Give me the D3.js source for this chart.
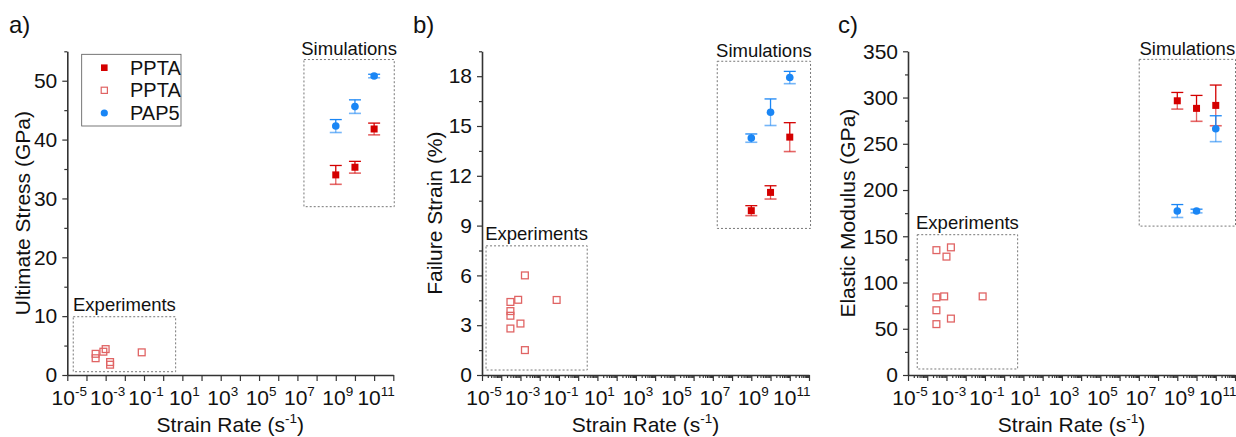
<!DOCTYPE html>
<html>
<head>
<meta charset="utf-8">
<script src="https://cdn.jsdelivr.net/npm/d3@7"></script>
<style>
  body { margin: 0; background: #fff; }
  svg { font-family: "Liberation Sans", Arial, sans-serif; display: block; }
</style>
</head>
<body>
<div id="chart"></div>
<script>
// simulation strain rates (s^-1)
const simRates = [1e9, 1e10, 1e11];

// a) ultimate stress (GPa)
const stressPPTA = [34.0, 35.3, 41.8];
const stressPPTAErr = [1.6, 1.0, 1.0];
const stressPAP5 = [42.3, 45.6, 50.8];
const stressPAP5Err = [1.1, 1.15, 0.3];
const expStressRate = [3.0e-4, 3.0e-4, 7.6e-4, 1.0e-3, 1.7e-3, 1.7e-3, 0.076];
const expStress = [3.6, 2.85, 3.96, 4.4, 2.2, 1.75, 3.85];

// b) failure strain (%)
const strainPPTA = [9.9, 11.0, 14.33];
const strainPPTAErr = [0.3, 0.4, 0.87];
const strainPAP5 = [14.27, 15.83, 17.92];
const strainPAP5Err = [0.25, 0.8, 0.37];
const expStrainRate = [3.0e-4, 3.0e-4, 3.0e-4, 3.0e-4, 7.6e-4, 1.0e-3, 1.7e-3, 1.7e-3, 0.076];
const expStrain = [4.4, 3.85, 3.57, 2.8, 4.53, 3.1, 6.0, 1.5, 4.52];

// c) elastic modulus (GPa)
const modulusPPTA = [296.5, 288.3, 291.5];
const modulusPPTAErr = [9, 14, 22];
const modulusPAP5 = [177.3, 177.3, 266.3];
const modulusPAP5Err = [7, 2, 14];
const expModulusRate = [3.0e-4, 3.0e-4, 3.0e-4, 3.0e-4, 7.6e-4, 1.0e-3, 1.7e-3, 1.7e-3, 0.076];
const expModulus = [135, 84, 70, 55, 85, 128, 138, 61, 85];

// tick labels
const xLabelExps = [-5, -3, -1, 1, 3, 5, 7, 9, 11];
const legendLabels = ["PPTA", "PPTA", "PAP5"];

const RED = "#d40000", BLUE = "#1a86f5", EXP = "#e06464";
const FS = 21;

const svg = d3.select("#chart").append("svg")
    .attr("width", 1236)
    .attr("height", 437);
svg.append("rect").attr("width", 1236).attr("height", 437).attr("fill", "#fff");

const plotTop = 51.3, plotBottom = 375;

const panels = [
    {label: "a)", labelX: 9, left: 67.3, right: 393.3, yMax: 55, yStep: 10, title: "Ultimate Stress (GPa)", titleX: 22,
     minorX: false, ppta: stressPPTA, pptaErr: stressPPTAErr, pap: stressPAP5, papErr: stressPAP5Err,
     expX: expStressRate, expY: expStress,
     expBox: [-4.69, 0.65, 9.9, 0.56], simBox: [7.34, 12.05, 53.6, 28.6], legend: true},
    {label: "b)", labelX: 413, left: 482, right: 809, yMax: 19.5, yStep: 3, title: "Failure Strain (%)", titleX: 434,
     minorX: true, ppta: strainPPTA, pptaErr: strainPPTAErr, pap: strainPAP5, papErr: strainPAP5Err,
     expX: expStrainRate, expY: expStrain,
     expBox: [-4.79, 0.47, 7.78, 0.3], simBox: [7.23, 12.08, 18.9, 8.83]},
    {label: "c)", labelX: 838, left: 908, right: 1235, yMax: 350, yStep: 50, title: "Elastic Modulus (GPa)", titleX: 847,
     minorX: true, ppta: modulusPPTA, pptaErr: modulusPPTAErr, pap: modulusPAP5, papErr: modulusPAP5Err,
     expX: expModulusRate, expY: expModulus,
     expBox: [-4.52, 0.70, 151.7, 6.5], simBox: [7.02, 12.05, 341.3, 161]}
];

function drawPanel(p) {
    const g = svg.append("g");
    const x = d3.scaleLog().domain([1e-5, 1e12]).range([p.left, p.right]);
    const y = d3.scaleLinear().domain([0, p.yMax]).range([plotBottom, plotTop]);

    // panel letter
    g.append("text").attr("x", p.labelX).attr("y", 33)
        .attr("font-size", 24).attr("fill", "#111").text(p.label);

    // dashed boxes
    const box = (b, name) => {
        const x0 = x(Math.pow(10, b[0])), x1 = Math.min(x(Math.pow(10, b[1])), 1235.5);
        const y0 = y(b[2]), y1 = y(b[3]);
        g.append("rect").attr("x", x0).attr("y", y0).attr("width", x1 - x0).attr("height", y1 - y0)
            .attr("fill", "none").attr("stroke", "#777").attr("stroke-width", 1)
            .attr("stroke-dasharray", "2,2");
        g.append("text").attr("x", (x0 + x1) / 2).attr("y", y0 - (name === "Simulations" ? 4.5 : 6))
            .attr("text-anchor", "middle").attr("font-size", 18.5).attr("fill", "#111").text(name);
    };
    box(p.expBox, "Experiments");
    box(p.simBox, "Simulations");

    // x axis
    const decades = d3.range(-5, 13).map(e => Math.pow(10, e));
    g.append("g").attr("transform", `translate(0,${plotBottom})`)
        .call(d3.axisBottom(x).tickValues(decades).tickFormat("").tickSize(6).tickSizeOuter(0));
    if (p.minorX) {
        const minors = [];
        for (let e = -5; e < 12; e++) for (let k = 2; k < 10; k++) minors.push(k * Math.pow(10, e));
        g.append("g").attr("transform", `translate(0,${plotBottom})`)
            .call(d3.axisBottom(x).tickValues(minors).tickFormat("").tickSize(3).tickSizeOuter(0))
            .call(a => a.select(".domain").remove());
    }
    xLabelExps.forEach(e => {
        const t = g.append("text").attr("x", x(Math.pow(10, e)) + 2).attr("y", 405)
            .attr("text-anchor", "middle").attr("font-size", FS).attr("fill", "#111");
        t.append("tspan").text("10");
        t.append("tspan").attr("font-size", 13.5).attr("dy", -9).text(e);
    });
    const xt = g.append("text").attr("x", (p.left + p.right) / 2).attr("y", 432)
        .attr("text-anchor", "middle").attr("font-size", FS).attr("fill", "#111");
    xt.append("tspan").text("Strain Rate (s");
    xt.append("tspan").attr("font-size", 13.5).attr("dy", -9).text("-1");
    xt.append("tspan").attr("dy", 9).text(")");

    // y axis
    const majors = d3.range(0, p.yMax + 1e-9, p.yStep);
    const minorsY = d3.range(p.yStep / 2, p.yMax + 1e-9, p.yStep);
    const ya = g.append("g").attr("transform", `translate(${p.left},0)`)
        .call(d3.axisLeft(y).tickValues(majors).tickSize(5).tickSizeOuter(0).tickPadding(5));
    g.append("g").attr("transform", `translate(${p.left},0)`)
        .call(d3.axisLeft(y).tickValues(minorsY).tickFormat("").tickSize(3).tickSizeOuter(0))
        .call(a => a.select(".domain").remove());
    ya.selectAll("text").attr("font-size", FS).attr("fill", "#111")
        .attr("font-family", "'Liberation Sans', Arial, sans-serif");
    g.selectAll(".domain").attr("stroke", "#333").attr("stroke-width", 1.6);
    g.selectAll(".tick line").attr("stroke", "#333").attr("stroke-width", 1.2);

    g.append("text").attr("transform", `translate(${p.titleX},${(plotTop + plotBottom) / 2}) rotate(-90)`)
        .attr("text-anchor", "middle").attr("dominant-baseline", "central")
        .attr("font-size", FS).attr("fill", "#111").text(p.title);

    // error bars
    const errBars = (vals, errs, color) => {
        simRates.forEach((r, i) => {
            const cx = x(r), cy = y(vals[i]), yt = y(vals[i] + errs[i]), yb = y(vals[i] - errs[i]);
            g.append("line").attr("x1", cx).attr("x2", cx).attr("y1", yt).attr("y2", cy)
                .attr("stroke", color).attr("stroke-width", 1.3);
            g.append("line").attr("x1", cx - 6).attr("x2", cx + 6).attr("y1", yt).attr("y2", yt)
                .attr("stroke", color).attr("stroke-width", 1.3);
            g.append("line").attr("x1", cx).attr("x2", cx).attr("y1", cy).attr("y2", yb)
                .attr("stroke", color).attr("stroke-width", 1.3).attr("opacity", 0.6);
            g.append("line").attr("x1", cx - 6).attr("x2", cx + 6).attr("y1", yb).attr("y2", yb)
                .attr("stroke", color).attr("stroke-width", 1.6).attr("opacity", 0.6);
        });
    };
    errBars(p.ppta, p.pptaErr, RED);
    errBars(p.pap, p.papErr, BLUE);

    g.selectAll(null).data(p.ppta).join("rect")
        .attr("x", (d, i) => x(simRates[i]) - 3.5).attr("y", d => y(d) - 3.5)
        .attr("width", 7).attr("height", 7).attr("fill", RED);
    g.selectAll(null).data(p.pap).join("circle")
        .attr("cx", (d, i) => x(simRates[i])).attr("cy", d => y(d))
        .attr("r", 3.8).attr("fill", BLUE);

    g.selectAll(null).data(p.expY).join("rect")
        .attr("x", (d, i) => x(p.expX[i]) - 3.4).attr("y", d => y(d) - 3.4)
        .attr("width", 6.8).attr("height", 6.8)
        .attr("fill", "none").attr("stroke", EXP).attr("stroke-width", 1.3);

    if (p.legend) {
        const lg = g.append("g");
        lg.append("rect").attr("x", 81.7).attr("y", 54.3).attr("width", 99.3).attr("height", 71.7)
            .attr("fill", "#fff").attr("stroke", "#555").attr("stroke-width", 0.8);
        const rows = [67.7, 90.3, 113];
        legendLabels.forEach((t, i) => {
            lg.append("text").attr("x", 130).attr("y", rows[i]).attr("dominant-baseline", "central")
                .attr("font-size", 20).attr("fill", "#111").text(t);
        });
        lg.append("rect").attr("x", 104.3 - 3.3).attr("y", rows[0] - 3.3).attr("width", 6.6).attr("height", 6.6).attr("fill", RED);
        lg.append("rect").attr("x", 104.3 - 3.1).attr("y", rows[1] - 3.1).attr("width", 6.2).attr("height", 6.2)
            .attr("fill", "none").attr("stroke", EXP).attr("stroke-width", 1.2);
        lg.append("circle").attr("cx", 104.3).attr("cy", rows[2]).attr("r", 3.6).attr("fill", BLUE);
    }
}

panels.forEach(drawPanel);
</script>
</body>
</html>
